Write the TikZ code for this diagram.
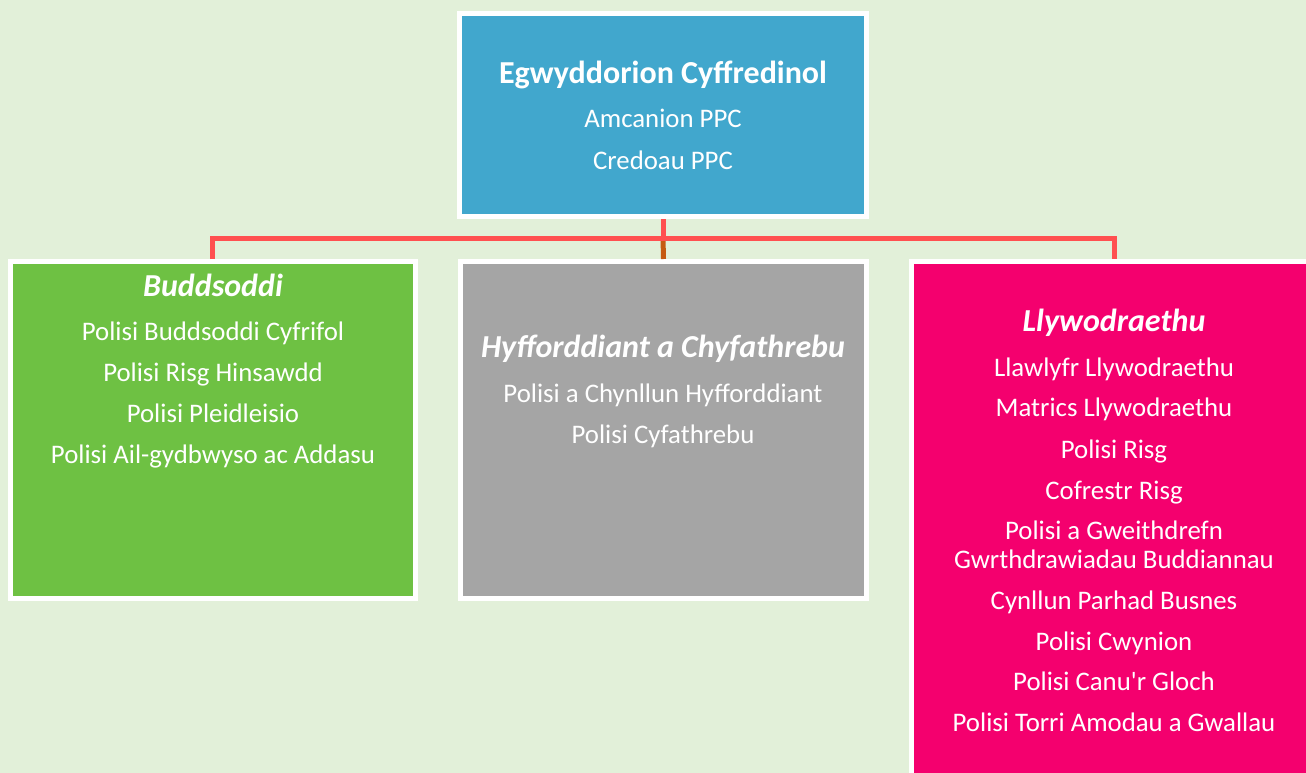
\documentclass[tikz,border=0pt]{standalone}
\usepackage{fontspec}
\setmainfont{Carlito}
\definecolor{bgc}{HTML}{E2F0D9}
\definecolor{bluec}{HTML}{41A7CD}
\definecolor{greenc}{HTML}{6EC143}
\definecolor{grayc}{HTML}{A5A5A5}
\definecolor{pinkc}{HTML}{F4006E}
\definecolor{redc}{HTML}{FF5050}
\definecolor{brownc}{HTML}{C55A11}
\tikzset{
  box/.style={draw=white, line width=5pt, rectangle, inner sep=0pt},
  conn/.style={draw=redc, line width=5pt},
  connb/.style={draw=brownc, line width=5pt},
  ttl/.style={text=white, font=\fontsize{32}{36}\selectfont\bfseries, anchor=base, inner sep=0pt},
  ttli/.style={text=white, font=\fontsize{32}{36}\selectfont\bfseries\itshape, anchor=base, inner sep=0pt},
  itm/.style={text=white, font=\fontsize{26.8}{30}\selectfont, anchor=base, inner sep=0pt},
}
\begin{document}
\begin{tikzpicture}[x=1pt,y=-1pt]
\clip (0,0) rectangle (1306,773);
\fill[bgc] (0,0) rectangle (1306,773);
% boxes
\node[box, fill=bluec, minimum width=407pt, minimum height=203pt] (top) at (663,115) {};
\node[box, fill=greenc, minimum width=405pt, minimum height=337pt] (green) at (213,430) {};
\node[box, fill=grayc, minimum width=406pt, minimum height=337pt] (gray) at (663.5,430) {};
\node[box, fill=pinkc, minimum width=420pt, minimum height=600pt] (pink) at (1121.5,561.5) {};
% connectors
\coordinate (hub) at (663,238);
\coordinate (lj) at (212,238);
\coordinate (rj) at (1114,238);
\draw[connb] (hub) -- (gray.north);
\draw[conn] (top.south) -- (hub);
\draw[conn] (green.north -| lj) |- (hub) -| (pink.north -| rj);
% top text
\node[ttl] (t0) at (663,84) {Egwyddorion Cyffredinol};
\node[itm] (t1) at (663,128) {Amcanion PPC};
\node[itm] (t2) at (663,169) {Credoau PPC};
% green text
\node[ttli] (g0) at (213,296) {Buddsoddi};
\node[itm] (g1) at (213,340) {Polisi Buddsoddi Cyfrifol};
\node[itm] (g2) at (213,381) {Polisi Risg Hinsawdd};
\node[itm] (g3) at (213,422) {Polisi Pleidleisio};
\node[itm] (g4) at (213,463) {Polisi Ail-gydbwyso ac Addasu};
% gray text
\node[ttli] (h0) at (663,357) {Hyfforddiant a Chyfathrebu};
\node[itm] (h1) at (663,402) {Polisi a Chynllun Hyfforddiant};
\node[itm] (h2) at (663,443) {Polisi Cyfathrebu};
% pink text
\node[ttli] (p0) at (1114,331) {Llywodraethu};
\node[itm] (p1) at (1114,376) {Llawlyfr Llywodraethu};
\node[itm] (p2) at (1114,416) {Matrics Llywodraethu};
\node[itm] (p3) at (1114,458) {Polisi Risg};
\node[itm] (p4) at (1114,499) {Cofrestr Risg};
\node[itm] (p5) at (1114,539) {Polisi a Gweithdrefn};
\node[itm] (p6) at (1114,568) {Gwrthdrawiadau Buddiannau};
\node[itm] (p7) at (1114,609) {Cynllun Parhad Busnes};
\node[itm] (p8) at (1114,650) {Polisi Cwynion};
\node[itm] (p9) at (1114,690) {Polisi Canu\textquotesingle r Gloch};
\node[itm] (p10) at (1114,731) {Polisi Torri Amodau a Gwallau};
\end{tikzpicture}
\end{document}
